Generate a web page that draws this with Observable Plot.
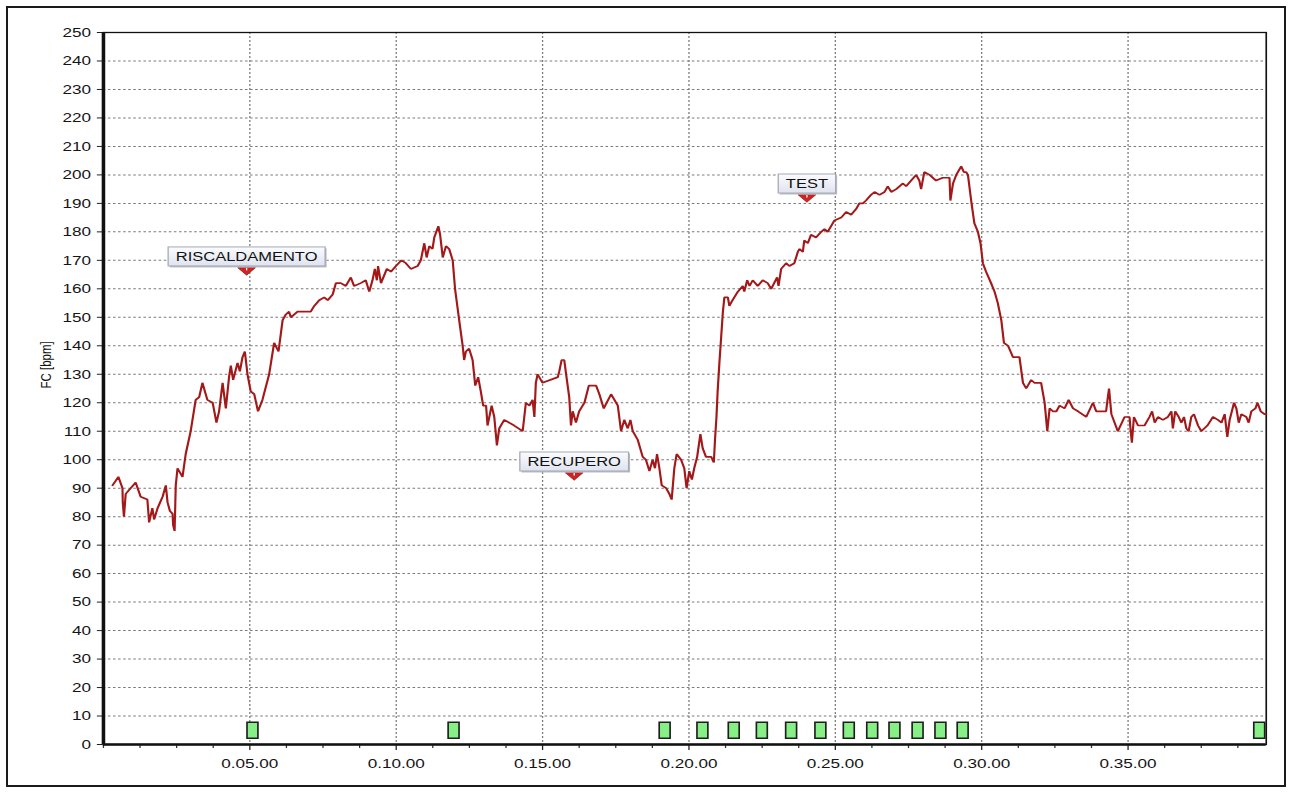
<!DOCTYPE html>
<html>
<head>
<meta charset="utf-8">
<script src="https://cdn.jsdelivr.net/npm/d3@7"></script>
<script src="https://cdn.jsdelivr.net/npm/@observablehq/plot@0.6"></script>
<style>
  html, body { margin: 0; padding: 0; background: #fff; }
  #page { position: relative; width: 1291px; height: 792px; overflow: hidden; background: #fff; }
  #chart { position: absolute; left: 0; top: 0; transform-origin: 0 0; }
  #border { position: absolute; left: 6px; top: 6px; width: 1276px; height: 777px;
            border: 2px solid #1a1a1a; pointer-events: none; }
</style>
</head>
<body>
<div id="page"><div id="chart"></div><div id="border"></div></div>
<script>
// Heart-rate samples: [elapsed minutes, bpm]
const hrSamples = [
  [0.31,91],[0.51,94],[0.65,90],[0.66,85],[0.70,80],[0.76,88],[1.10,92],[1.27,87],[1.50,86],[1.56,78],
  [1.67,83],[1.73,79],[1.85,83],[2.02,87],[2.13,91],[2.19,85],[2.27,82],[2.36,81],[2.38,77],[2.43,75],
  [2.47,91],[2.53,97],[2.70,94],[2.81,102],[2.98,110],[3.15,121],[3.27,122],[3.38,127],[3.55,121],[3.73,120],
  [3.86,113],[3.95,117],[4.07,127],[4.18,118],[4.29,129],[4.35,133],[4.43,128],[4.58,134],[4.66,131],[4.75,136],
  [4.83,138],[4.92,130],[5.03,124],[5.15,123],[5.28,117],[5.43,121],[5.66,130],[5.83,141],[5.98,138],[6.12,149],
  [6.23,151],[6.34,152],[6.40,150],[6.63,152],[6.86,152],[7.08,152],[7.20,154],[7.37,156],[7.54,157],[7.66,156],
  [7.83,158],[7.94,162],[8.11,162],[8.28,161],[8.45,164],[8.56,161],[8.79,162],[8.96,163],[9.08,159],[9.19,163],
  [9.27,167],[9.34,163],[9.38,168],[9.48,162],[9.68,167],[9.82,166],[9.99,168],[10.18,170],[10.33,169],[10.50,167],
  [10.73,168],[10.84,170],[10.96,176],[11.04,171],[11.13,175],[11.24,174],[11.30,178],[11.44,182],[11.50,179],[11.59,171],
  [11.70,175],[11.81,174],[11.93,170],[12.01,160],[12.10,153],[12.19,146],[12.27,140],[12.32,135],[12.38,138],[12.49,139],
  [12.61,135],[12.70,126],[12.80,129],[12.89,124],[12.97,119],[13.07,119],[13.12,112],[13.26,119],[13.35,115],[13.44,105],
  [13.52,111],[13.69,114],[14.03,112],[14.32,110],[14.43,120],[14.55,119],[14.66,121],[14.72,115],[14.77,127],[14.83,130],
  [15.00,127],[15.52,129],[15.57,131],[15.65,135],[15.74,135],[15.83,128],[15.91,122],[15.97,112],[16.03,117],[16.14,113],
  [16.25,117],[16.43,120],[16.58,126],[16.83,126],[16.94,123],[17.09,118],[17.34,123],[17.57,119],[17.68,110],[17.79,114],
  [17.91,111],[18.00,114],[18.08,110],[18.25,107],[18.42,101],[18.53,100],[18.65,96],[18.76,100],[18.84,97],[18.91,102],
  [18.99,97],[19.07,91],[19.22,90],[19.33,88],[19.41,86],[19.50,97],[19.58,102],[19.73,100],[19.84,97],[19.92,90],
  [20.01,96],[20.10,93],[20.18,97],[20.28,101],[20.39,109],[20.47,104],[20.58,101],[20.76,101],[20.85,99],[20.89,107],
  [20.94,115],[20.98,124],[21.04,134],[21.10,143],[21.16,152],[21.21,157],[21.33,157],[21.38,154],[21.49,156],[21.67,159],
  [21.84,161],[21.89,159],[21.99,163],[22.07,161],[22.18,163],[22.35,161],[22.52,163],[22.69,162],[22.81,160],[23.01,164],
  [23.06,161],[23.15,167],[23.32,169],[23.43,168],[23.60,169],[23.72,173],[23.77,174],[23.89,173],[23.94,177],[24.06,176],
  [24.17,179],[24.34,178],[24.52,180],[24.63,181],[24.74,180],[24.97,184],[25.20,185],[25.37,187],[25.54,186],[25.71,188],
  [25.82,190],[25.94,190],[26.05,191],[26.22,193],[26.34,194],[26.51,193],[26.68,194],[26.79,196],[26.91,194],[27.08,195],
  [27.31,197],[27.42,196],[27.59,198],[27.76,200],[27.87,198],[27.93,195],[28.04,201],[28.22,200],[28.44,198],[28.67,199],
  [28.90,199],[28.93,191],[29.02,197],[29.13,200],[29.30,203],[29.39,201],[29.47,201],[29.53,200],[29.64,191],[29.75,183],
  [29.87,180],[29.96,176],[30.04,169],[30.15,166],[30.32,162],[30.44,159],[30.55,155],[30.67,149],[30.76,141],[30.90,140],
  [31.07,136],[31.29,136],[31.41,127],[31.52,125],[31.69,128],[31.80,127],[32.03,127],[32.15,120],[32.24,110],[32.32,118],
  [32.43,117],[32.55,117],[32.66,119],[32.83,118],[32.97,121],[33.12,118],[33.29,117],[33.57,115],[33.80,120],[33.91,117],
  [34.08,117],[34.25,117],[34.31,122],[34.35,125],[34.43,116],[34.65,110],[34.88,115],[35.05,115],[35.09,110],[35.13,106],
  [35.20,115],[35.34,112],[35.56,112],[35.73,115],[35.82,117],[35.91,113],[36.02,115],[36.19,114],[36.36,115],[36.48,117],
  [36.53,111],[36.61,117],[36.73,115],[36.82,113],[36.91,115],[36.99,111],[37.07,110],[37.16,115],[37.25,116],[37.39,112],
  [37.50,110],[37.71,112],[37.90,115],[38.07,114],[38.19,113],[38.30,116],[38.39,108],[38.47,114],[38.62,120],[38.70,118],
  [38.78,113],[38.87,116],[39.04,115],[39.12,113],[39.21,117],[39.35,118],[39.42,120],[39.53,117],[39.66,116],[39.72,116]
];

// Lap markers (minutes)
const lapMinutes = [5.09, 11.96, 19.17, 20.46, 21.53, 22.49, 23.49, 24.49, 25.46, 26.26, 27.02, 27.81, 28.59, 29.35, 39.48];

// Session phase flags
const flagLabels  = ["RISCALDAMENTO", "RECUPERO", "TEST"];
const flagMinutes = [4.89, 16.08, 24.03];
const flagBpm     = [164.8, 92.8, 190.4];

// Axis ticks
const bpmTicks       = [0,10,20,30,40,50,60,70,80,90,100,110,120,130,140,150,160,170,180,190,200,210,220,230,240,250];
const bpmGridTicks   = [10,20,30,40,50,60,70,80,90,100,110,120,130,140,150,160,170,180,190,200,210,220,230,240];
const timeTicks      = [5, 10, 15, 20, 25, 30, 35];
const minorTimeTicks = [0, 1.25, 2.5, 3.75, 6.25, 7.5, 8.75, 11.25, 12.5, 13.75, 16.25, 17.5, 18.75,
                        21.25, 22.5, 23.75, 26.25, 27.5, 28.75, 31.25, 32.5, 33.75, 36.25, 37.5, 38.75];
const timeDomain = [0, 39.72];
const bpmDomain  = [0, 250];

// h.mm.ss labels for elapsed minutes
function fmtElapsed(m) {
  const s = Math.round(m * 60);
  const h = Math.floor(s / 3600);
  const mm = Math.floor((s % 3600) / 60);
  const ss = s % 60;
  return `${h}.${String(mm).padStart(2, "0")}.${String(ss).padStart(2, "0")}`;
}

// The chart is laid out on a narrower canvas and stretched horizontally.
const PAGE_W = 1291;
const W = 1017;
const stretch = PAGE_W / W;

const lapSymbol = { draw(ctx) { ctx.rect(-4.3, -8, 8.6, 16); } };
const flagPointer = { draw(ctx) { ctx.moveTo(-7, -7.5); ctx.lineTo(7, -7.5); ctx.lineTo(0, 0); ctx.closePath(); } };
const flagNotch = { draw(ctx) { ctx.moveTo(0, -7.2); ctx.lineTo(0, -4.8); } };

const flagIdx = flagLabels.map((_, i) => i);
const gridStyle = { stroke: "#7a7a7a", strokeOpacity: 1, strokeWidth: 1, strokeDasharray: "2,2" };

const chart = Plot.plot({
  width: W,
  height: 792,
  marginLeft: 81,
  marginRight: 20,
  marginTop: 32,
  marginBottom: 48,
  x: { domain: timeDomain, label: null },
  y: { domain: bpmDomain, label: null },
  style: { fontFamily: "'Liberation Sans', Arial, sans-serif", fontSize: "13.5px", color: "#151515",
           background: "transparent", overflow: "visible", maxWidth: "none" },
  marks: [
    Plot.gridY(bpmGridTicks, gridStyle),
    Plot.gridX(timeTicks, gridStyle),
    Plot.frame({ stroke: "#111", strokeWidth: 1.3 }),
    Plot.axisY(bpmTicks, { tickSize: 4.7, tickPadding: 5, fontSize: 13.5, label: null, stroke: "#222" }),
    Plot.axisX(timeTicks, { tickSize: 6, tickPadding: 8, tickFormat: fmtElapsed, fontSize: 13.5, label: null, stroke: "#222" }),
    Plot.axisX(minorTimeTicks, { tickSize: 4, tickFormat: () => "", label: null, stroke: "#333" }),
    Plot.line(hrSamples, { x: d => d[0], y: d => d[1], stroke: "#a31818", strokeWidth: 1.7, strokeLinejoin: "miter" }),
    Plot.ruleX([0], { stroke: "#111", strokeWidth: 2.8 }),
    Plot.ruleY([0], { stroke: "#111", strokeWidth: 2.6 }),
    Plot.dot(lapMinutes, { x: d => d, y: () => 5, symbol: lapSymbol, fill: "#86ef86", stroke: "#1e1e1e", strokeWidth: 1.3 }),
    Plot.dot(flagIdx, { x: i => flagMinutes[i], y: i => flagBpm[i], symbol: flagPointer, fill: "#d02424", stroke: "#961212", strokeWidth: 0.6 }),
    Plot.dot(flagIdx, { x: i => flagMinutes[i], y: i => flagBpm[i], symbol: flagNotch, fill: "none", stroke: "#fff", strokeWidth: 1 }),
    Plot.text(flagIdx, { x: i => flagMinutes[i], y: i => flagBpm[i], text: i => flagLabels[i], dy: -18.5,
                         fontSize: 13, fill: "#111" }),
    Plot.text([0], { frameAnchor: "left", text: () => "FC [bpm]", rotate: -90, dx: -45, fontSize: 11.5, fill: "#111" })
  ]
});

const holder = document.getElementById("chart");
holder.style.transform = `scaleX(${stretch})`;
holder.appendChild(chart);

// Label boxes behind the flag texts
const ns = "http://www.w3.org/2000/svg";
const defs = document.createElementNS(ns, "defs");
defs.innerHTML = `<linearGradient id="flagFill" x1="0" y1="0" x2="0" y2="1">
  <stop offset="0" stop-color="#fbfcff"/><stop offset="1" stop-color="#dfe3ee"/></linearGradient>`;
chart.insertBefore(defs, chart.firstChild);

Array.from(chart.querySelectorAll("text"))
  .filter(t => flagLabels.includes(t.textContent))
  .forEach(t => {
    const b = t.getBBox();
    const padX = 6, h = 19;
    const cy = b.y + b.height / 2;
    const tf = t.getAttribute("transform");
    const mk = (dx, dy, fill, stroke) => {
      const r = document.createElementNS(ns, "rect");
      r.setAttribute("x", b.x - padX + dx);
      r.setAttribute("y", cy - h / 2 + dy);
      r.setAttribute("width", b.width + 2 * padX);
      r.setAttribute("height", h);
      r.setAttribute("fill", fill);
      r.setAttribute("stroke", stroke);
      r.setAttribute("stroke-width", 1);
      if (tf) r.setAttribute("transform", tf);
      return r;
    };
    t.parentNode.insertBefore(mk(1.2, 1.5, "#b9bcc4", "none"), t);
    t.parentNode.insertBefore(mk(0, 0, "url(#flagFill)", "#a4a9b6"), t);
  });
</script>
</body>
</html>
